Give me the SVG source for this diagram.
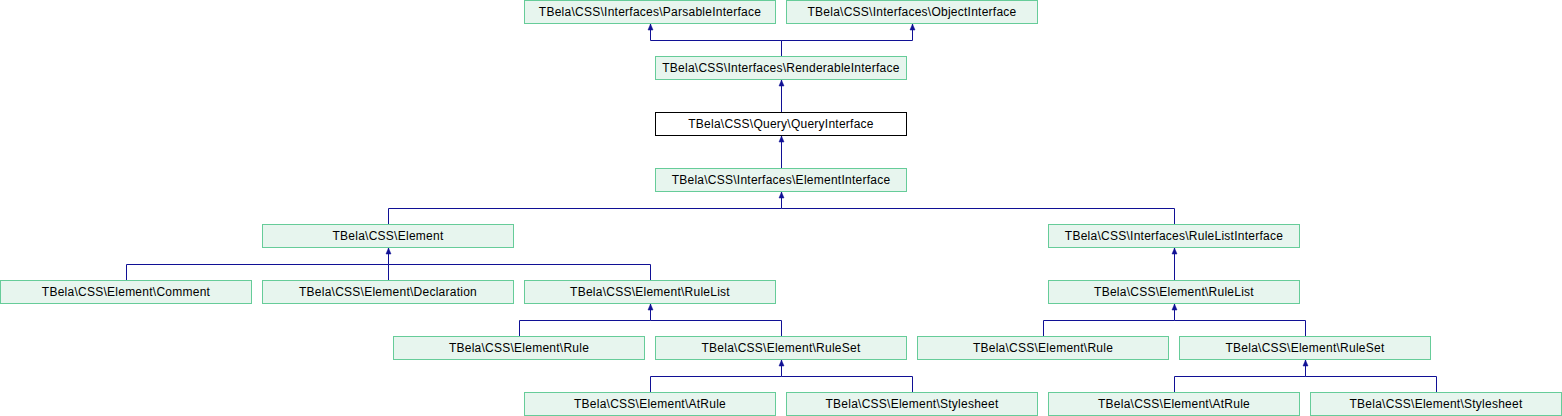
<svg xmlns="http://www.w3.org/2000/svg" width="1562" height="416" viewBox="0 0 1562 416">
<defs>
<style>
.n rect{fill:#e7f5ee;stroke:#66cc99;stroke-width:1}
.q rect{fill:#ffffff;stroke:#000000;stroke-width:1}
text{font-family:"Liberation Sans",Arial,Helvetica,sans-serif;font-size:12px;letter-spacing:0.25px;text-anchor:middle;fill:#000}
.e path{fill:none;stroke:#101095;stroke-width:1}
.e polygon{fill:#101095;stroke:#101095;stroke-width:0.5}
</style>
</defs>
<rect width="1562" height="416" fill="#ffffff"/>
<g class="e" id="edges">
<path d="M781.5,56.5V40.5H650.5V24"/><polygon points="650.5,24 648,30 653,30"/>
<path d="M781.5,56.5V40.5H912.5V24"/><polygon points="912.5,24 910,30 915,30"/>
<path d="M781.5,112.5V80"/><polygon points="781.5,80 779,86 784,86"/>
<path d="M781.5,168.5V136"/><polygon points="781.5,136 779,142 784,142"/>
<path d="M388.5,224.5V208.5H781.5V192"/><path d="M1174.5,224.5V208.5H781.5"/><polygon points="781.5,192 779,198 784,198"/>
<path d="M126.5,280.5V264.5H388.5V248"/><path d="M388.5,280.5V264.5"/><path d="M650.5,280.5V264.5H388.5"/><polygon points="388.5,248 386,254 391,254"/>
<path d="M1174.5,280.5V248"/><polygon points="1174.5,248 1172,254 1177,254"/>
<path d="M519.5,336.5V320.5H650.5V304"/><path d="M781.5,336.5V320.5H650.5"/><polygon points="650.5,304 648,310 653,310"/>
<path d="M1043.5,336.5V320.5H1174.5V304"/><path d="M1305.5,336.5V320.5H1174.5"/><polygon points="1174.5,304 1172,310 1177,310"/>
<path d="M650.5,392.5V376.5H781.5V360"/><path d="M912.5,392.5V376.5H781.5"/><polygon points="781.5,360 779,366 784,366"/>
<path d="M1174.5,392.5V376.5H1305.5V360"/><path d="M1436.5,392.5V376.5H1305.5"/><polygon points="1305.5,360 1303,366 1308,366"/>
</g>
<g class="n" id="parsable"><rect x="524.5" y="0.5" width="251" height="23"/><text x="650" y="16">TBela\CSS\Interfaces\ParsableInterface</text></g>
<g class="n" id="object"><rect x="786.5" y="0.5" width="251" height="23"/><text x="912" y="16">TBela\CSS\Interfaces\ObjectInterface</text></g>
<g class="n" id="renderable"><rect x="655.5" y="56.5" width="251" height="23"/><text x="781" y="72">TBela\CSS\Interfaces\RenderableInterface</text></g>
<g class="q" id="query"><rect x="655.5" y="112.5" width="251" height="23"/><text x="781" y="128">TBela\CSS\Query\QueryInterface</text></g>
<g class="n" id="elementinterface"><rect x="655.5" y="168.5" width="251" height="23"/><text x="781" y="184">TBela\CSS\Interfaces\ElementInterface</text></g>
<g class="n" id="element"><rect x="262.5" y="224.5" width="251" height="23"/><text x="388" y="240">TBela\CSS\Element</text></g>
<g class="n" id="rulelistinterface"><rect x="1048.5" y="224.5" width="251" height="23"/><text x="1174" y="240">TBela\CSS\Interfaces\RuleListInterface</text></g>
<g class="n" id="comment"><rect x="0.5" y="280.5" width="251" height="23"/><text x="126" y="296">TBela\CSS\Element\Comment</text></g>
<g class="n" id="declaration"><rect x="262.5" y="280.5" width="251" height="23"/><text x="388" y="296">TBela\CSS\Element\Declaration</text></g>
<g class="n" id="rulelist1"><rect x="524.5" y="280.5" width="251" height="23"/><text x="650" y="296">TBela\CSS\Element\RuleList</text></g>
<g class="n" id="rulelist2"><rect x="1048.5" y="280.5" width="251" height="23"/><text x="1174" y="296">TBela\CSS\Element\RuleList</text></g>
<g class="n" id="rule1"><rect x="393.5" y="336.5" width="251" height="23"/><text x="519" y="352">TBela\CSS\Element\Rule</text></g>
<g class="n" id="ruleset1"><rect x="655.5" y="336.5" width="251" height="23"/><text x="781" y="352">TBela\CSS\Element\RuleSet</text></g>
<g class="n" id="rule2"><rect x="917.5" y="336.5" width="251" height="23"/><text x="1043" y="352">TBela\CSS\Element\Rule</text></g>
<g class="n" id="ruleset2"><rect x="1179.5" y="336.5" width="251" height="23"/><text x="1305" y="352">TBela\CSS\Element\RuleSet</text></g>
<g class="n" id="atrule1"><rect x="524.5" y="392.5" width="251" height="23"/><text x="650" y="408">TBela\CSS\Element\AtRule</text></g>
<g class="n" id="stylesheet1"><rect x="786.5" y="392.5" width="251" height="23"/><text x="912" y="408">TBela\CSS\Element\Stylesheet</text></g>
<g class="n" id="atrule2"><rect x="1048.5" y="392.5" width="251" height="23"/><text x="1174" y="408">TBela\CSS\Element\AtRule</text></g>
<g class="n" id="stylesheet2"><rect x="1310.5" y="392.5" width="251" height="23"/><text x="1436" y="408">TBela\CSS\Element\Stylesheet</text></g>
</svg>
